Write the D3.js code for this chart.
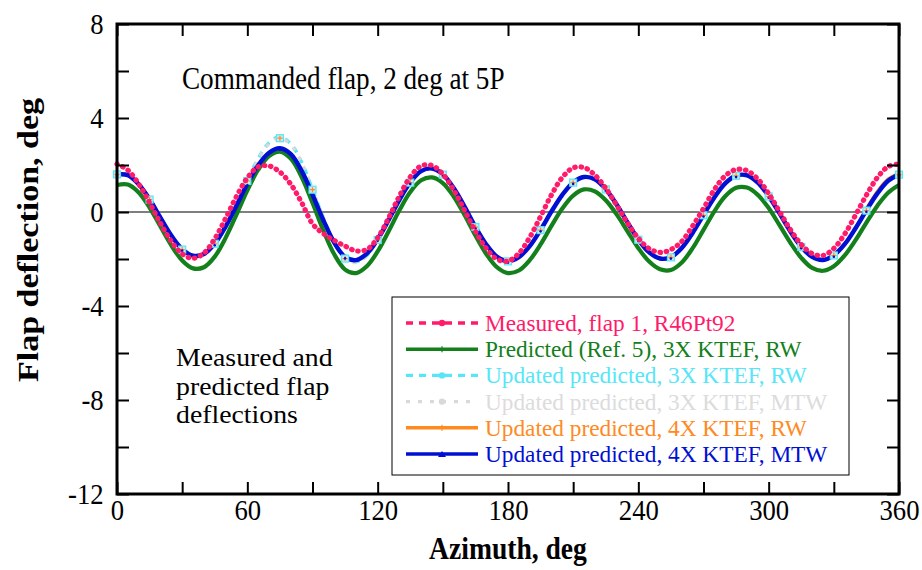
<!DOCTYPE html>
<html>
<head>
<meta charset="utf-8">
<script src="https://cdn.jsdelivr.net/npm/d3@7"></script>
<style>
  body { margin: 0; background: #fff; }
  text { font-family: "Liberation Serif", "Times New Roman", serif; }
</style>
</head>
<body>
<svg id="chart" width="922" height="570"></svg>
<script>
// Azimuth stations, deg
const azimuth = [0,5,10,15,20,25,30,35,40,45,50,55,60,65,70,75,80,85,90,95,
  100,105,110,115,120,125,130,135,140,145,150,155,160,165,170,175,180,185,190,195,
  200,205,210,215,220,225,230,235,240,245,250,255,260,265,270,275,280,285,290,295,
  300,305,310,315,320,325,330,335,340,345,350,355,360];

// Flap deflection, deg
const measuredR46Pt92 = [2.04,1.78,1.19,0.39,-0.48,-1.25,-1.78,-1.97,-1.75,-1.14,
  -0.27,0.66,1.45,1.92,1.96,1.70,1.18,0.40,-0.50,-0.92,
  -1.21,-1.45,-1.65,-1.60,-1.10,-0.26,0.68,1.49,1.96,1.98,
  1.61,0.93,0.07,-0.82,-1.55,-2.01,-2.09,-1.76,-1.08,-0.19,
  0.73,1.47,1.88,1.89,1.57,1.01,0.29,-0.47,-1.12,-1.56,
  -1.72,-1.60,-1.25,-0.60,0.15,0.95,1.54,1.81,1.76,1.40,
  0.78,0.02,-0.75,-1.38,-1.77,-1.85,-1.55,-0.94,-0.13,0.72,
  1.46,1.93,2.04];

const predictedRef5 = [1.15,1.17,0.83,0.19,-0.62,-1.42,-2.06,-2.40,-2.35,-1.90,
  -1.10,-0.11,0.92,1.80,2.38,2.57,2.27,1.49,0.39,-0.79,
  -1.80,-2.45,-2.60,-2.31,-1.68,-0.83,0.07,0.85,1.35,1.47,
  1.23,0.66,-0.13,-1.00,-1.79,-2.36,-2.60,-2.49,-2.05,-1.38,
  -0.59,0.15,0.70,0.96,0.88,0.50,-0.10,-0.82,-1.54,-2.11,
  -2.44,-2.47,-2.15,-1.54,-0.76,0.03,0.67,1.03,1.04,0.73,
  0.17,-0.56,-1.31,-1.95,-2.38,-2.50,-2.31,-1.85,-1.20,-0.45,
  0.26,0.82,1.15];

const updated3xRW = [1.60,1.57,1.18,0.54,-0.24,-1.00,-1.58,-1.87,-1.80,-1.33,
  -0.58,0.33,1.35,2.28,2.95,3.20,2.90,2.12,0.95,-0.25,
  -1.30,-1.96,-2.12,-1.85,-1.18,-0.35,0.52,1.26,1.74,1.85,
  1.60,1.02,0.23,-0.63,-1.38,-1.91,-2.09,-1.92,-1.45,-0.76,
  0.02,0.73,1.26,1.49,1.39,0.97,0.32,-0.44,-1.17,-1.72,
  -1.98,-1.92,-1.53,-0.89,-0.13,0.62,1.22,1.55,1.56,1.25,
  0.67,-0.06,-0.83,-1.48,-1.91,-2.04,-1.84,-1.37,-0.69,0.07,
  0.78,1.33,1.60];

const updated3xMTW = [1.60,1.56,1.17,0.53,-0.25,-1.01,-1.60,-1.89,-1.82,-1.35,
  -0.60,0.30,1.32,2.24,2.90,3.14,2.86,2.10,0.95,-0.25,
  -1.31,-1.98,-2.15,-1.87,-1.19,-0.36,0.51,1.25,1.73,1.84,
  1.59,1.01,0.22,-0.64,-1.39,-1.92,-2.10,-1.93,-1.46,-0.77,
  0.01,0.72,1.25,1.48,1.38,0.96,0.31,-0.45,-1.18,-1.73,
  -1.99,-1.93,-1.54,-0.90,-0.14,0.61,1.21,1.54,1.55,1.24,
  0.66,-0.07,-0.84,-1.49,-1.92,-2.05,-1.85,-1.38,-0.70,0.06,
  0.77,1.32,1.59];

const updated4xRW = [1.60,1.57,1.18,0.54,-0.24,-1.00,-1.58,-1.86,-1.79,-1.35,
  -0.62,0.27,1.20,1.99,2.52,2.69,2.46,1.75,0.74,-0.35,
  -1.30,-1.91,-2.05,-1.77,-1.16,-0.35,0.52,1.26,1.74,1.85,
  1.60,1.02,0.23,-0.63,-1.38,-1.91,-2.09,-1.92,-1.45,-0.76,
  0.02,0.73,1.26,1.49,1.39,0.97,0.32,-0.44,-1.17,-1.72,
  -1.98,-1.92,-1.53,-0.89,-0.13,0.62,1.22,1.55,1.56,1.25,
  0.67,-0.06,-0.83,-1.48,-1.91,-2.04,-1.84,-1.37,-0.69,0.13,
  0.86,1.40,1.64];

const updated4xMTW = [1.60,1.57,1.18,0.54,-0.24,-1.00,-1.58,-1.86,-1.79,-1.35,
  -0.62,0.27,1.20,1.99,2.52,2.71,2.46,1.75,0.74,-0.35,
  -1.30,-1.91,-2.05,-1.77,-1.16,-0.35,0.52,1.26,1.74,1.85,
  1.60,1.02,0.23,-0.63,-1.38,-1.91,-2.09,-1.92,-1.45,-0.76,
  0.02,0.73,1.26,1.49,1.39,0.97,0.32,-0.44,-1.17,-1.72,
  -1.98,-1.92,-1.53,-0.89,-0.13,0.62,1.22,1.55,1.56,1.25,
  0.67,-0.06,-0.83,-1.48,-1.91,-2.04,-1.84,-1.37,-0.69,0.07,
  0.78,1.33,1.60];

// Axis ticks and labels
const xTicks = [0,30,60,90,120,150,180,210,240,270,300,330,360];
const xLabels = [0,60,120,180,240,300,360];
const yTicks = [-12,-10,-8,-6,-4,-2,0,2,4,6,8];
const yLabels = [-12,-8,-4,0,4,8];

const legendNames = [
  "Measured, flap 1, R46Pt92",
  "Predicted (Ref. 5), 3X KTEF, RW",
  "Updated predicted, 3X KTEF, RW",
  "Updated predicted, 3X KTEF, MTW",
  "Updated predicted, 4X KTEF, RW",
  "Updated predicted, 4X KTEF, MTW"
];

const C = {
  pink: "#ff1a6a",
  green: "#13801b",
  cyan: "#57e6f7",
  gray: "#d9d9d9",
  orange: "#ff8a1f",
  blue: "#0010d2"
};

// axis lettering is set slightly narrow
const SX = 0.89;

const svg = d3.select("#chart");
const x = d3.scaleLinear().domain([0, 360]).range([117, 899]);
const y = d3.scaleLinear().domain([-12, 8]).range([494, 24]);

const line = (vals) => d3.line()
  .x((d, i) => x(azimuth[i]))
  .y(d => y(d))
  .curve(d3.curveCatmullRom.alpha(0.5))(vals);

// text placed at (tx, ty) with a horizontal scale sx
function label(parent, tx, ty, str, size, opts = {}) {
  const sx = opts.sx || SX;
  return parent.append("text")
    .attr("transform", `translate(${tx},${ty}) scale(${sx},1)`)
    .attr("font-size", size)
    .attr("text-anchor", opts.anchor || "start")
    .attr("font-weight", opts.weight || "normal")
    .attr("fill", opts.fill || "#000")
    .text(str);
}

// zero reference line
svg.append("line")
  .attr("x1", x(0)).attr("x2", x(360))
  .attr("y1", y(0)).attr("y2", y(0))
  .attr("stroke", "#000").attr("stroke-width", 1.2);

const plot = svg.append("g");

const series = [
  { vals: predictedRef5, color: C.green, width: 4.2, dash: null },
  { vals: updated3xRW, color: C.cyan, width: 3.4, dash: "6 6" },
  { vals: updated3xMTW, color: C.gray, width: 3.4, dash: "4 7" },
  { vals: updated4xRW, color: C.orange, width: 3.4, dash: null },
  { vals: updated4xMTW, color: C.blue, width: 4.4, dash: null }
];

series.forEach(s => {
  plot.append("path")
    .attr("d", line(s.vals))
    .attr("fill", "none")
    .attr("stroke", s.color)
    .attr("stroke-width", s.width)
    .attr("stroke-dasharray", s.dash);
});

// symbols on the updated predictions every 15 deg
const markIdx = azimuth.map((a, i) => i).filter(i => azimuth[i] % 15 === 0);
const marks = plot.append("g");
markIdx.forEach(i => {
  const cx = x(azimuth[i]), cy = y(updated3xMTW[i]);
  marks.append("rect")
    .attr("x", cx - 3.5).attr("y", cy - 3.5)
    .attr("width", 7).attr("height", 7)
    .attr("fill", "#cfe8ee").attr("stroke", C.cyan).attr("stroke-width", 1.2);
  marks.append("path")
    .attr("d", `M${cx - 2.5},${cy}H${cx + 2.5}M${cx},${cy - 2.5}V${cy + 2.5}`)
    .attr("stroke", C.orange).attr("stroke-width", 1.2);
  marks.append("circle")
    .attr("cx", cx).attr("cy", y(updated4xMTW[i]) + 1.5).attr("r", 1.3)
    .attr("fill", C.blue);
});

// measured data, drawn as a string of round dots
plot.append("path")
  .attr("d", line(measuredR46Pt92))
  .attr("fill", "none")
  .attr("stroke", C.pink)
  .attr("stroke-width", 5.2)
  .attr("stroke-linecap", "round")
  .attr("stroke-dasharray", "0.5 5.8");

// axes with inward ticks on all four sides
const fontTick = 30;
const styleAxis = (g) => {
  g.select(".domain").remove();
  g.selectAll(".tick line").attr("stroke", "#000").attr("stroke-width", 2);
  g.selectAll(".tick text")
    .attr("font-family", "'Liberation Serif', serif")
    .attr("font-size", fontTick)
    .attr("fill", "#000")
    .attr("transform", `scale(${SX},1)`);
};

svg.append("g")
  .attr("transform", `translate(0,${y(-12)})`)
  .call(d3.axisBottom(x).tickValues(xTicks).tickSizeInner(-12).tickSizeOuter(0).tickPadding(5)
    .tickFormat(d => xLabels.includes(d) ? d : ""))
  .call(styleAxis);

svg.append("g")
  .attr("transform", `translate(0,${y(8)})`)
  .call(d3.axisTop(x).tickValues(xTicks).tickSizeInner(-12).tickSizeOuter(0).tickFormat(""))
  .call(styleAxis);

svg.append("g")
  .attr("transform", `translate(${x(0)},0)`)
  .call(d3.axisLeft(y).tickValues(yTicks).tickSizeInner(-12).tickSizeOuter(0).tickPadding(15)
    .tickFormat(d => yLabels.includes(d) ? d : ""))
  .call(styleAxis);

svg.append("g")
  .attr("transform", `translate(${x(360)},0)`)
  .call(d3.axisRight(y).tickValues(yTicks).tickSizeInner(-12).tickSizeOuter(0).tickFormat(""))
  .call(styleAxis);

// frame
svg.append("rect")
  .attr("x", x(0)).attr("y", y(8))
  .attr("width", x(360) - x(0)).attr("height", y(-12) - y(8))
  .attr("fill", "none").attr("stroke", "#000").attr("stroke-width", 3);

// axis titles
label(svg, (x(0) + x(360)) / 2, 559, "Azimuth, deg", 31, { anchor: "middle", weight: "bold" });

svg.append("text")
  .attr("transform", `translate(38,${(y(8) + y(-12)) / 2 - 19}) rotate(-90) scale(1,${SX})`)
  .attr("text-anchor", "middle")
  .attr("font-weight", "bold").attr("font-size", 34)
  .text("Flap deflection, deg");

// annotations
label(svg, 182, 89, "Commanded flap, 2 deg at 5P", 30.5);
["Measured and", "predicted flap", "deflections"].forEach((t, i) => {
  label(svg, 176, 366 + i * 28.5, t, 25.5, { sx: 1.09 });
});

// legend
const lg = svg.append("g");
lg.append("rect")
  .attr("x", 392).attr("y", 297).attr("width", 457).attr("height", 178)
  .attr("fill", "#fff").attr("stroke", "#000").attr("stroke-width", 1);

const legendStyle = [
  { color: C.pink, dash: "7 6", width: 3.4, mark: "dot" },
  { color: C.green, dash: null, width: 3.4, mark: "tick" },
  { color: C.cyan, dash: "7 6", width: 3.4, mark: "dot" },
  { color: C.gray, dash: "4 8", width: 3.4, mark: "dot" },
  { color: C.orange, dash: null, width: 3.4, mark: "tick" },
  { color: C.blue, dash: null, width: 3.4, mark: "tri" }
];

legendNames.forEach((name, i) => {
  const cy = 323 + i * 26.2;
  const st = legendStyle[i];
  lg.append("line")
    .attr("x1", 406).attr("x2", 478).attr("y1", cy).attr("y2", cy)
    .attr("stroke", st.color).attr("stroke-width", st.width)
    .attr("stroke-dasharray", st.dash);
  if (st.mark === "dot") {
    lg.append("circle").attr("cx", 442).attr("cy", cy).attr("r", 3.2).attr("fill", st.color);
  } else if (st.mark === "tri") {
    lg.append("path").attr("d", `M438,${cy + 3}L442,${cy - 3}L446,${cy + 3}Z`).attr("fill", st.color);
  } else {
    lg.append("path").attr("d", `M442,${cy - 3}V${cy + 3}`).attr("stroke", st.color).attr("stroke-width", 1.2);
  }
  label(lg, 485, cy + 8, name, 23.3, { sx: 1.0, fill: st.color === C.gray ? "#dcdcdc" : st.color });
});
</script>
</body>
</html>
